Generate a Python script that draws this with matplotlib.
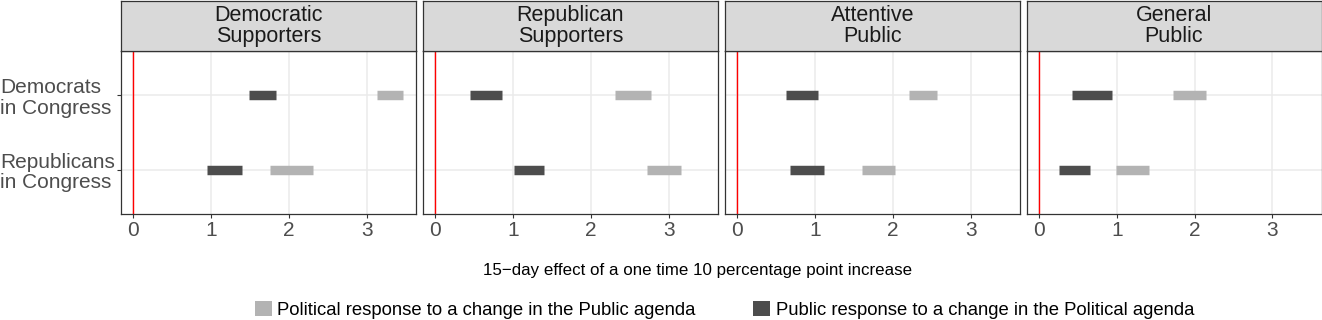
import matplotlib.pyplot as plt
from matplotlib.patches import Patch

plt.rcParams['font.family'] = ['Liberation Sans', 'DejaVu Sans']

# facets and rows
panels = ["Democratic\nSupporters", "Republican\nSupporters", "Attentive\nPublic", "General\nPublic"]
rows = ["Democrats\nin Congress", "Republicans\nin Congress"]
row_pos = [2, 1]

# Public response to a change in the Political agenda (dark), [Democrats, Republicans]
public_lo = [[1.48, 0.94], [0.45, 1.01], [0.62, 0.68], [0.42, 0.26]]
public_hi = [[1.83, 1.39], [0.86, 1.40], [1.04, 1.11], [0.94, 0.65]]

# Political response to a change in the Public agenda (light)
political_lo = [[3.13, 1.76], [2.31, 2.72], [2.21, 1.60], [1.72, 0.99]]
political_hi = [[3.46, 2.31], [2.77, 3.16], [2.57, 2.03], [2.14, 1.41]]

xticks = [0, 1, 2, 3]

dark = "#4D4D4D"
light = "#B3B3B3"
edge = "#333333"

fig = plt.figure(figsize=(13.22, 3.2), dpi=100)

W, H = 1322, 320
lefts = [121, 423, 725, 1026.5]
pw = 295
body_top, body_bot = 51, 214

for i, name in enumerate(panels):
    ax = fig.add_axes([lefts[i] / W, 1 - body_bot / H, pw / W, (body_bot - body_top) / H])
    hd = fig.add_axes([lefts[i] / W, 1 - body_top / H, pw / W, (body_top - 1) / H])

    # header strip
    hd.set_facecolor("#D9D9D9")
    hd.set_xticks([])
    hd.set_yticks([])
    for s in hd.spines.values():
        s.set_color(edge)
        s.set_linewidth(0.9)
    hd.text(0.5, 0.5, name, ha="center", va="center", fontsize=15.5, color="#1A1A1A",
            linespacing=1.0, transform=hd.transAxes)

    # grid
    ax.set_axisbelow(True)
    ax.grid(True, color="#EBEBEB", linewidth=1.1)

    ax.axvline(0, color="red", linewidth=1.0, zorder=2)
    ax.hlines(row_pos, political_lo[i], political_hi[i], colors=light, linewidth=6.8, zorder=3)
    ax.hlines(row_pos, public_lo[i], public_hi[i], colors=dark, linewidth=6.8, zorder=3)

    ax.set_xlim(-0.16, 3.63)
    ax.set_ylim(0.4, 2.6)
    ax.set_xticks(xticks)
    ax.set_xticklabels([str(t) for t in xticks])
    ax.set_yticks(row_pos)
    for s in ax.spines.values():
        s.set_color(edge)
        s.set_linewidth(0.9)
    ax.tick_params(axis="x", color="#333333", labelsize=15, length=3, pad=2,
                   labelcolor="#4D4D4D")
    if i == 0:
        ax.set_yticklabels(rows, ha="left", multialignment="left", linespacing=1.1)
        ax.tick_params(axis="y", labelsize=15, length=3, pad=84, color="#333333",
                       labelcolor="#4D4D4D")
    else:
        ax.set_yticklabels([])
        ax.tick_params(axis="y", length=0)

fig.text(698 / W, 1 - 270 / H, "15\u2212day effect of a one time 10 percentage point increase",
         ha="center", va="center", fontsize=12.2, color="black")

handles = [Patch(facecolor=light, edgecolor="none"), Patch(facecolor=dark, edgecolor="none")]
labels = ["Political response to a change in the Public agenda",
          "Public response to a change in the Political agenda"]
fig.legend(handles, labels, loc="center", bbox_to_anchor=(724.5 / W, 1 - 310 / H), ncol=2,
           frameon=False, fontsize=13.3, handlelength=0.9, handleheight=0.9,
           handletextpad=0.32, columnspacing=3.1, borderaxespad=0, borderpad=0)

fig.savefig("out.png", dpi=100)
